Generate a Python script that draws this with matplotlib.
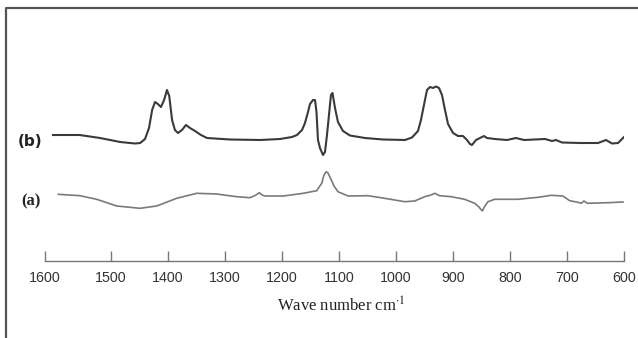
import matplotlib
matplotlib.use("Agg")
import matplotlib.pyplot as plt
from matplotlib.lines import Line2D

plt.rcParams['mathtext.fontset'] = 'stix'

# ---- data (wavenumber cm-1, relative intensity) ----
b_wave = [1602, 1555, 1519.5, 1484, 1458, 1449, 1440.5, 1433.5, 1428, 1423, 1418, 1412.5,
          1407, 1402, 1398, 1393, 1388, 1382.6, 1375.6, 1368.6, 1361.6, 1352.8, 1342.3,
          1331.7, 1291.4, 1238.7, 1203.6, 1182.6, 1173.8, 1165, 1159.8, 1154.5, 1151,
          1145.7, 1142.2, 1139.6, 1137, 1133.5, 1128.2, 1124.7, 1121.2, 1117.7, 1114.2,
          1111.5, 1107.1, 1101.9, 1093.1, 1080.8, 1054.5, 1022.9, 984.3, 972, 961.5,
          956.3, 951, 945.7, 940.4, 935.2, 929.9, 924.6, 919.4, 914.1, 908.8, 900,
          891.3, 882.5, 875.5, 870.3, 866.8, 859.7, 852.7, 845.7, 840.4, 826.4, 805.3,
          789.5, 775.5, 738.6, 726.3, 719.3, 708.8, 677.2, 645.6, 631.6, 621.1, 610.5, 600]
b_int = [126, 126, 123, 119, 117.5, 118, 122, 133, 151, 159, 157, 154,
         161, 171, 165, 141, 131, 128, 131, 136, 133, 130, 126,
         123, 121.5, 121, 122, 124, 126, 131, 138, 149, 157,
         161, 161, 149, 121, 113, 106, 109, 126, 146, 166,
         168, 153, 139, 130, 125.5, 123, 121.5, 121, 123.5, 130,
         141, 156, 171, 174, 173, 174.5, 173, 166, 151, 137, 128,
         125, 125, 121, 117, 116, 121, 123, 125, 123, 122, 121,
         123, 121, 122, 120, 121, 118.5, 118, 118, 121, 117.5, 118, 124]

a_wave = [1592.7, 1554.6, 1525.3, 1490.2, 1449.3, 1420, 1384.9, 1349.8, 1314.7, 1279.6,
          1256.3, 1245.7, 1240, 1235.2, 1229.9, 1197.8, 1162.7, 1139.2, 1130.5, 1126.5,
          1122.4, 1119.4, 1113.6, 1108.9, 1101.9, 1084.3, 1049.2, 1019.9, 984.8, 967.3,
          949.7, 938.7, 932.2, 923.4, 903, 879.6, 862, 854.5, 848.7, 844, 838.7, 827,
          786.1, 751, 727.6, 707.1, 695.4, 680.8, 675, 670.2, 664.4, 628.1, 601.8]
a_int = [66.7, 65.3, 61.7, 55, 52.7, 55, 62.7, 67.7, 67, 64.3,
         63.3, 66, 68.3, 66, 65, 65, 67.7, 70.3, 77.7, 86,
         89.3, 88, 81, 75, 69.3, 65, 65.3, 62.7, 59.3, 60,
         64.3, 66, 67.7, 65.3, 64.3, 61.7, 57.7, 54, 50, 55, 59.3, 61.7,
         61.7, 63.7, 65.7, 65, 60.3, 58.7, 57.7, 60, 57.7, 58.3, 59]

tick_pos = [1616, 1500, 1400, 1300, 1200, 1100, 1000, 900, 800, 700, 600]
tick_labels = ["1600", "1500", "1400", "1300", "1200", "1100", "1000", "900", "800", "700", "600"]
curve_labels = ["(b)", "(a)"]
x_label = "Wave number cm$^{\\cdot 1}$"

W, H = 638, 338
fig = plt.figure(figsize=(W / 100, H / 100), dpi=100)

# axes: x from px 45 to 624, y-axis line at px 261, top at px 20
ax = fig.add_axes([45 / W, (H - 261) / H, (624 - 45) / W, (261 - 20) / H])
ax.set_xlim(1616, 600)
ax.set_ylim(0, 241)

ax.plot(b_wave, b_int, color="#3a3a3a", lw=1.5, solid_joinstyle="round")
ax.plot(a_wave, a_int, color="#7a7a7a", lw=1.2, solid_joinstyle="round")

for s in ["top", "right", "left"]:
    ax.spines[s].set_visible(False)
ax.spines["bottom"].set_color("#777777")
ax.spines["bottom"].set_linewidth(1.0)
ax.set_yticks([])
ax.set_xticks(tick_pos)
ax.set_xticklabels(tick_labels, fontfamily="Liberation Sans", fontsize=10.3, color="#333333")
ax.tick_params(axis="x", direction="in", length=7, width=1.0, color="#777777", pad=7)

# outer frame (left and top edges)
fig.add_artist(Line2D([6 / W, 6 / W, 1.0], [0.0, 1 - 8 / H, 1 - 8 / H],
                      transform=fig.transFigure, color="#555555", lw=1.6))

# curve labels
fig.text(30 / W, 1 - 141 / H, curve_labels[0], ha="center", va="center",
         fontfamily="DejaVu Sans", fontweight="bold", fontsize=11, color="#222222")
fig.text(31 / W, 1 - 201 / H, curve_labels[1], ha="center", va="center",
         fontfamily="Liberation Serif", fontweight="bold", fontsize=12, color="#222222")

fig.text(341 / W, 1 - 306 / H, x_label, ha="center", va="center",
         fontfamily="Liberation Serif", fontsize=12, color="#222222")

fig.savefig("out.png", dpi=100)
